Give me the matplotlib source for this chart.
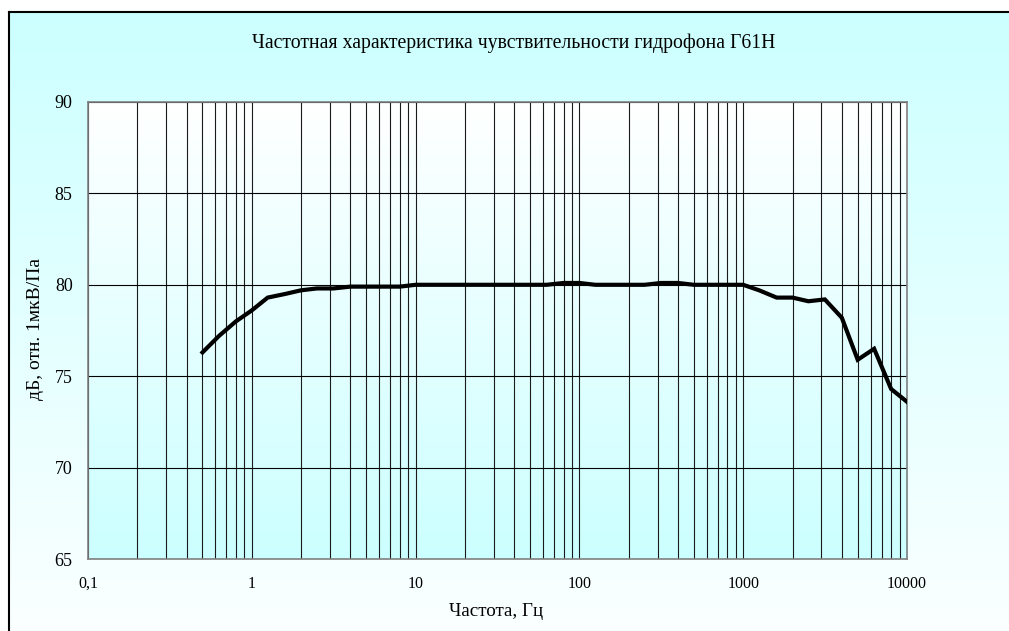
import numpy as np
import matplotlib.pyplot as plt
from matplotlib.ticker import FixedLocator, FixedFormatter, NullLocator
from matplotlib.colors import LinearSegmentedColormap

W, H = 1009, 631

# третьоктавные частоты, Гц
freq = [0.5, 0.63, 0.8, 1, 1.25, 1.6, 2, 2.5, 3.15, 4, 5, 6.3, 8,
        10, 12.5, 16, 20, 25, 31.5, 40, 50, 63, 80, 100, 125, 160, 200, 250,
        315, 400, 500, 630, 800, 1000, 1250, 1600, 2000, 2500, 3150, 4000,
        5000, 6300, 8000, 10000]
# чувствительность, дБ отн. 1 мкВ/Па
sens = [76.3, 77.2, 78.0, 78.6, 79.3, 79.5, 79.7, 79.8, 79.8, 79.9, 79.9, 79.9, 79.9,
        80.0, 80.0, 80.0, 80.0, 80.0, 80.0, 80.0, 80.0, 80.0, 80.1, 80.1, 80.0, 80.0, 80.0, 80.0,
        80.1, 80.1, 80.0, 80.0, 80.0, 80.0, 79.7, 79.3, 79.3, 79.1, 79.2, 78.2,
        75.9, 76.5, 74.3, 73.6]

xticks = [0.1, 1, 10, 100, 1000, 10000]
xticklabels = ['0,1', '1', '10', '100', '1000', '10000']
yticks = [65, 70, 75, 80, 85, 90]

title = 'Частотная характеристика чувствительности гидрофона Г61Н'
xlabel = 'Частота, Гц'
ylabel = 'дБ, отн. 1мкВ/Па'

plt.rcParams['font.family'] = ['Liberation Serif', 'DejaVu Serif']

fig = plt.figure(figsize=(W / 100, H / 100), dpi=100)
fig.patch.set_facecolor('white')


def px(x0, y0, x1, y1):
    # прямоугольник в пикселях -> доли фигуры
    return [x0 / W, 1 - y1 / H, (x1 - x0) / W, (y1 - y0) / H]


# фон области диаграммы
chart = fig.add_axes(px(9, 12, W + 2, H + 2))
cm_chart = LinearSegmentedColormap.from_list('chart', ['#ccffff', '#fbffff'])
chart.imshow(np.linspace(0, 1, 256).reshape(-1, 1), cmap=cm_chart, aspect='auto',
             extent=[0, 1, 0, 1], origin='upper')
chart.set_xlim(0, 1)
chart.set_ylim(0, 1)
chart.set_xticks([])
chart.set_yticks([])
for s in ['right', 'bottom']:
    chart.spines[s].set_visible(False)
for s in ['top', 'left']:
    chart.spines[s].set_color('black')
    chart.spines[s].set_linewidth(1.5)

# фон области построения
pos = px(88, 102, 907, 559)
bg = fig.add_axes(pos)
cm_plot = LinearSegmentedColormap.from_list('plot', ['#ffffff', '#ccffff'])
bg.imshow(np.linspace(0, 1, 256).reshape(-1, 1), cmap=cm_plot, aspect='auto',
          extent=[0, 1, 0, 1], origin='upper')
bg.set_axis_off()

ax = fig.add_axes(pos)
ax.patch.set_visible(False)
ax.set_xscale('log')
ax.set_xlim(0.1, 10000)
ax.set_ylim(65, 90)

ax.xaxis.set_major_locator(FixedLocator(xticks))
ax.xaxis.set_major_formatter(FixedFormatter(xticklabels))
minor = [m * 10.0 ** d for d in range(-1, 4) for m in range(2, 10)]
ax.xaxis.set_minor_locator(FixedLocator(minor))
ax.set_yticks(yticks)
ax.yaxis.set_minor_locator(NullLocator())

ax.grid(True, which='both', axis='x', color='#1a1a1a', lw=0.8)
ax.grid(True, which='major', axis='y', color='black', lw=0.8)
ax.set_axisbelow(True)

ax.tick_params(which='both', length=0)
ax.tick_params(axis='x', pad=12, labelsize=11.5)
ax.tick_params(axis='y', pad=11, labelsize=13)

for s in ax.spines.values():
    s.set_color('#808080')
    s.set_linewidth(1.2)

ax.plot(freq, sens, color='black', lw=3, solid_joinstyle='miter', zorder=3)

fig.text(514 / W, 1 - 43 / H, title, ha='center', va='center', fontsize=14.2)
fig.text(496 / W, 1 - 612 / H, xlabel, ha='center', va='center', fontsize=13.7)
fig.text(35 / W, 1 - 329 / H, ylabel, ha='center', va='center', rotation=90,
         fontsize=14)

fig.savefig('out.png', dpi=100)
